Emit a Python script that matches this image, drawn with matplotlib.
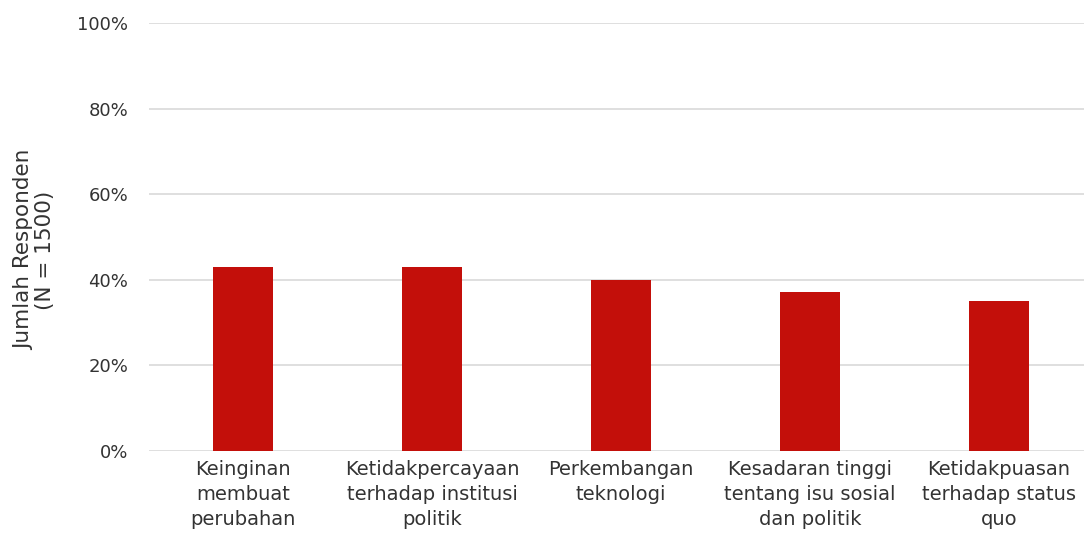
import matplotlib
matplotlib.use("Agg")
import matplotlib.pyplot as plt
from matplotlib.ticker import PercentFormatter

categories = [
    "Keinginan\nmembuat\nperubahan",
    "Ketidakpercayaan\nterhadap institusi\npolitik",
    "Perkembangan\nteknologi",
    "Kesadaran tinggi\ntentang isu sosial\ndan politik",
    "Ketidakpuasan\nterhadap status\nquo",
]
values = [43, 43, 40, 37, 35]
yticks = [0, 20, 40, 60, 80, 100]

plt.rcParams['font.family'] = ['DejaVu Sans']
text_color = "#333333"

fig = plt.figure(figsize=(10.84, 5.41), dpi=100)
ax = fig.add_axes([148.5 / 1084, 90.3 / 541, 945 / 1084, 427.7 / 541])

x = range(len(categories))
ax.bar(x, values, width=0.317, color="#C30F0A", zorder=3)

ax.set_xlim(-0.5, len(categories) - 0.5)
ax.set_ylim(0, 100)
ax.set_yticks(yticks)
ax.yaxis.set_major_formatter(PercentFormatter(decimals=0))
ax.set_xticks(list(x))
ax.set_xticklabels(categories, fontsize=14, color=text_color, linespacing=1.4)
ax.tick_params(axis='y', labelsize=13, labelcolor=text_color, length=0, pad=14.5)
ax.tick_params(axis='x', length=0, pad=7)
ax.grid(axis='y', color="#D9D9D9", linewidth=1.2, zorder=0)
for s in ax.spines.values():
    s.set_visible(False)

fig.text(0.032, (541 - 250) / 541, "Jumlah Responden\n(N = 1500)", rotation=90,
         ha='center', va='center', fontsize=15.5, color=text_color, linespacing=1.1)

fig.savefig("out.png", dpi=100)
